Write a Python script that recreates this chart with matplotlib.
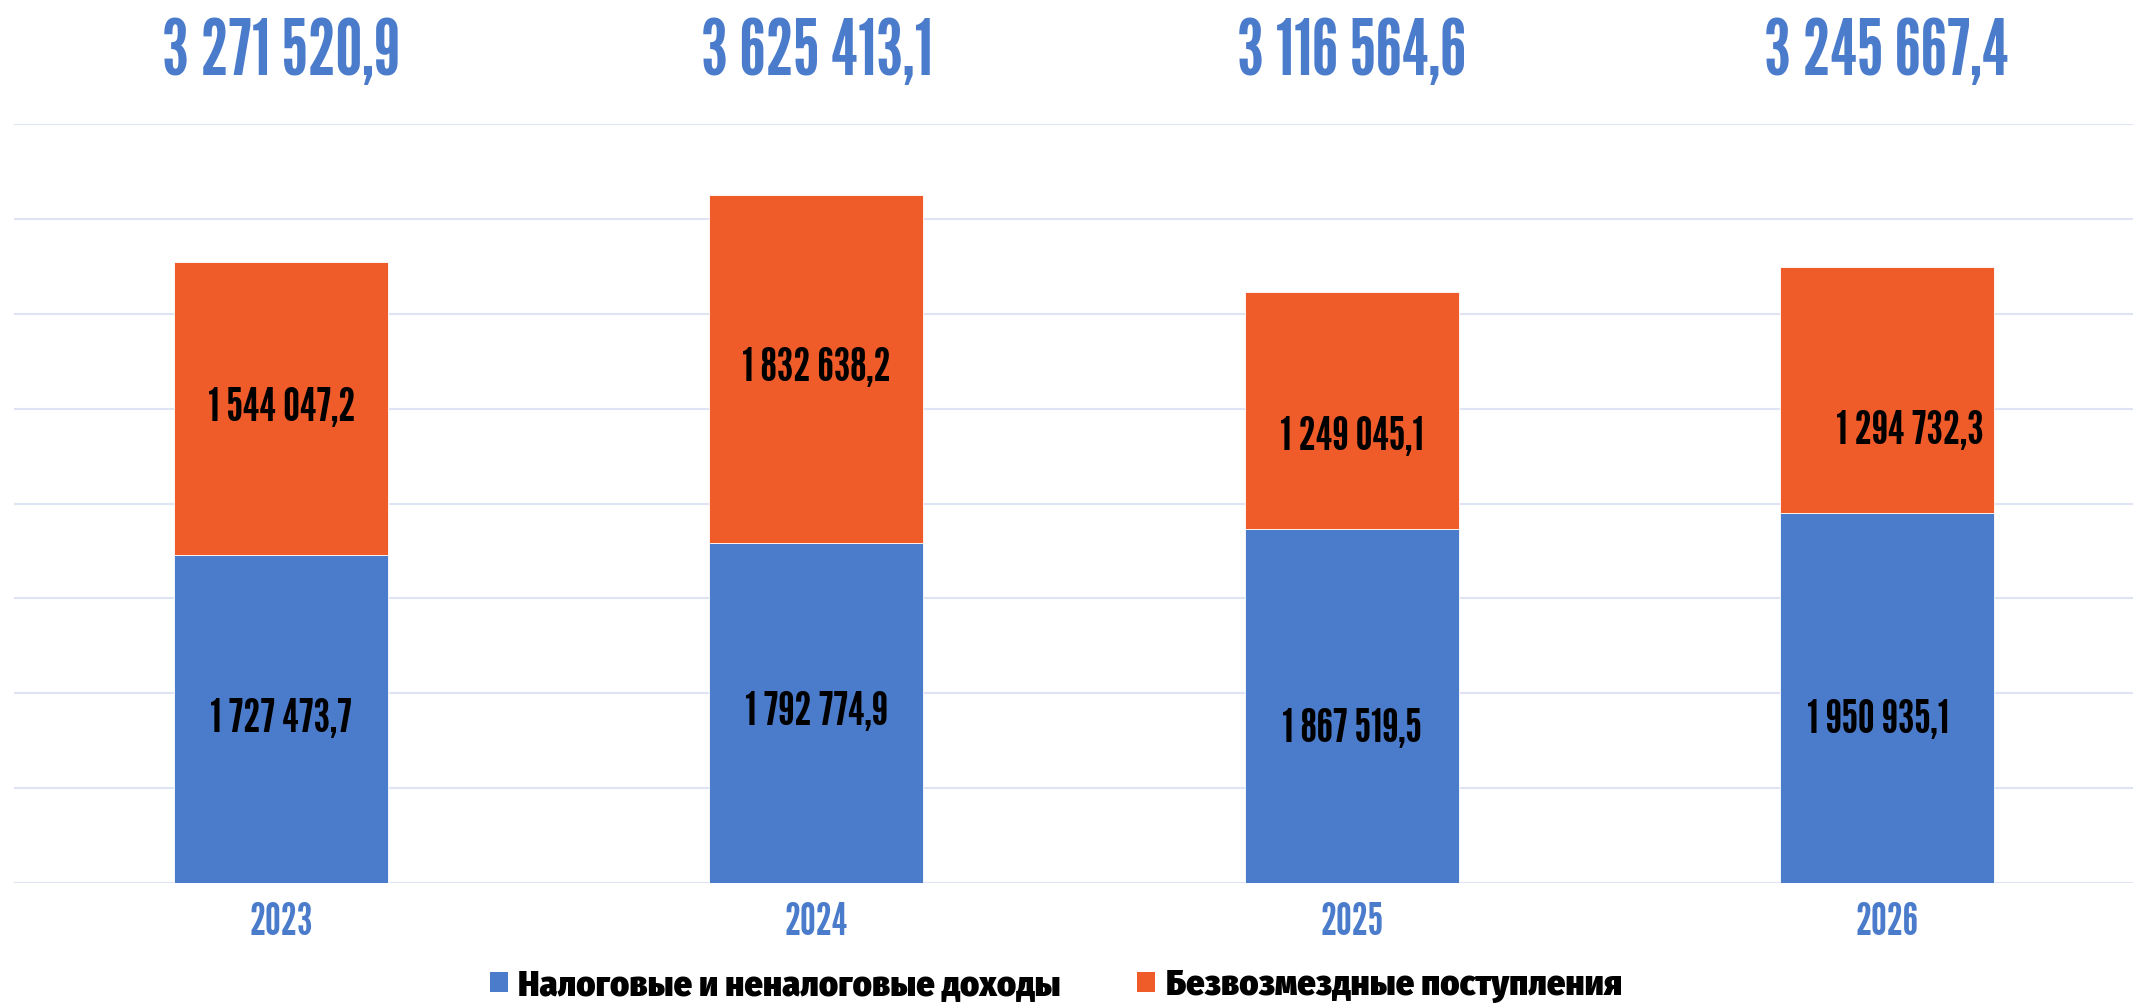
"""Доходы бюджета 2023–2026: stacked bars with totals above."""

import matplotlib
matplotlib.use("Agg")
import matplotlib.pyplot as plt
import numpy as np
from matplotlib.patches import Patch
from matplotlib.transforms import blended_transform_factory, offset_copy

# ---- data ----
years = ["2023", "2024", "2025", "2026"]
tax_income = [1727473.7, 1792774.9, 1867519.5, 1950935.1]
grants = [1544047.2, 1832638.2, 1249045.1, 1294732.3]
totals = [3271520.9, 3625413.1, 3116564.6, 3245667.4]
series_names = ["Налоговые и неналоговые доходы", "Безвозмездные поступления"]

# ---- style ----
BLUE = "#4B7BCB"
ORANGE = "#EF5C29"
GRID = "#DEE4F3"
NUM_FONT = ["League Gothic", "DejaVu Sans"]
LEG_FONT = ["Fira Sans Condensed", "Fira Sans", "DejaVu Sans"]

# per-label nudges in pixels (x right, y down), as placed in the original
grant_nudge = [(0, 0), (0, 0), (0, 27), (23, 42)]
tax_nudge = [(0, 0), (0, 0), (0, 24), (-9, 23)]


def fmt(v):
    s = f"{v:,.1f}".replace(",", " ").replace(".", ",")
    return s


fig = plt.figure(figsize=(21.33, 10.06), dpi=100)
fig.patch.set_facecolor("white")
ax = fig.add_axes([13.6 / 2133, 1 - 883 / 1006, 1 - 13.6 / 2133, (883 - 124) / 1006])

x = np.arange(len(years))
width = 0.4
ax.bar(x, tax_income, width, color=BLUE, edgecolor="white", linewidth=0.6, zorder=3)
ax.bar(x, grants, width, bottom=tax_income, color=ORANGE, edgecolor="white",
       linewidth=0.6, zorder=3)

ax.set_xlim(-0.5, 3.46)
ax.set_ylim(0, 4000000)
ax.set_yticks(np.arange(0, 4000001, 500000))
ax.yaxis.grid(True, color=GRID, linewidth=1.5, zorder=0)
ax.tick_params(axis="y", left=False, labelleft=False)
ax.tick_params(axis="x", length=0, pad=14)
ax.set_xticks(x)
ax.set_xticklabels(years, family=NUM_FONT, fontsize=32, color=BLUE)
for s in ax.spines.values():
    s.set_visible(False)
ax.set_axisbelow(True)

# segment labels
for i in range(len(years)):
    dx, dy = tax_nudge[i]
    tr = offset_copy(ax.transData, fig=fig, x=dx, y=-dy, units="dots")
    ax.text(x[i], tax_income[i] / 2, fmt(tax_income[i]), transform=tr,
            ha="center", va="center", family=NUM_FONT, fontsize=34, color="black", zorder=5)
    dx, dy = grant_nudge[i]
    tr = offset_copy(ax.transData, fig=fig, x=dx, y=-dy, units="dots")
    ax.text(x[i], tax_income[i] + grants[i] / 2, fmt(grants[i]), transform=tr,
            ha="center", va="center", family=NUM_FONT, fontsize=34, color="black", zorder=5)

# totals above the plot area
top_tr = blended_transform_factory(ax.transData, fig.transFigure)
for i in range(len(years)):
    ax.text(x[i], 1 - 54 / 1006, fmt(totals[i]), transform=top_tr, ha="center",
            va="center", family=NUM_FONT, fontsize=55, color=BLUE, clip_on=False)

handles = [Patch(facecolor=BLUE), Patch(facecolor=ORANGE)]
leg = fig.legend(handles, series_names, loc="center", bbox_to_anchor=(0.495, 1 - 985 / 1006),
                 ncol=2, frameon=False, handlelength=0.5, handleheight=0.5,
                 handletextpad=0.3, columnspacing=2.1,
                 prop={"family": LEG_FONT, "size": 26, "weight": "black"})

fig.savefig("out.png", dpi=100, facecolor="white")
